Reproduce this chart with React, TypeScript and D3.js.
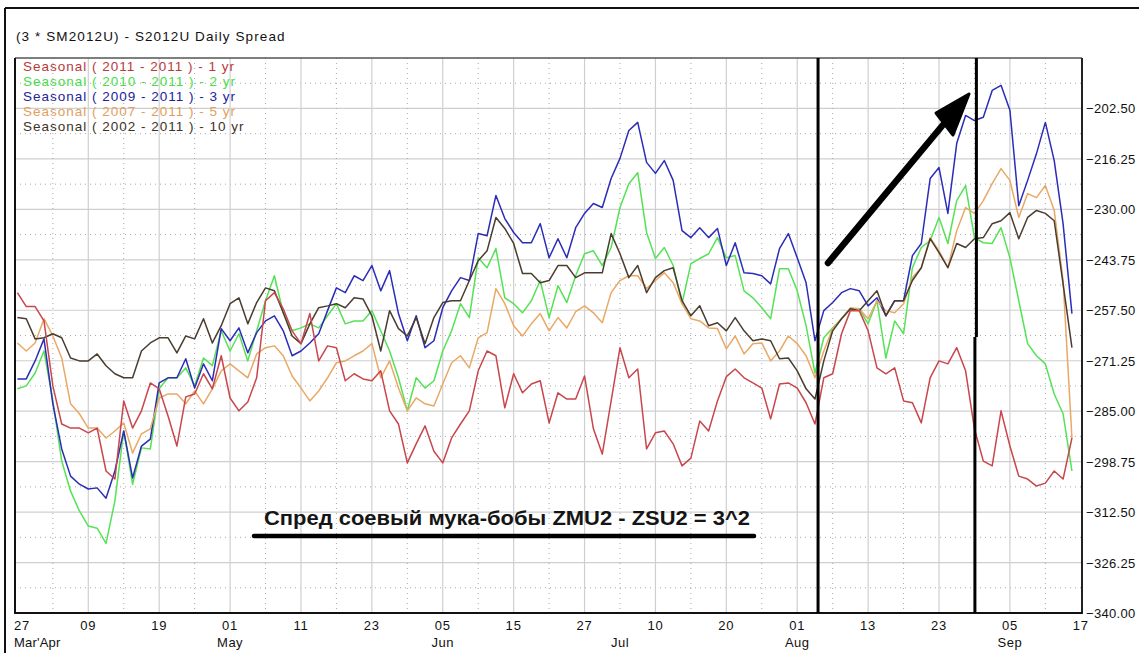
import React from "react";
import * as d3 from "d3";

const W = 1139;
const H = 653;

const dayLabels = ["27","09","19","01","11","23","05","15","27","10","20","01","13","23","05","17"];
const monthNames = ["May","Jun","Jul","Aug","Sep"];
const monthIdx = [24, 48, 68, 88, 112];

const seriesNames = [
  "Seasonal ( 2011 - 2011 ) - 1 yr",
  "Seasonal ( 2010 - 2011 ) - 2 yr",
  "Seasonal ( 2009 - 2011 ) - 3 yr",
  "Seasonal ( 2007 - 2011 ) - 5 yr",
  "Seasonal ( 2002 - 2011 ) - 10 yr",
];
const lineColors = ["#c8464c", "#55e255", "#2b2db8", "#eaa866", "#4a3c2e"];
const textColors = ["#b83a3a", "#49dc49", "#22239a", "#e0a060", "#3c3228"];

const red = [-252.7,-256.5,-256.5,-260.4,-278.1,-288.5,-289.6,-289.6,-290.9,-289.6,
-301.3,-303.5,-282.2,-289.6,-284.9,-277.3,-278.9,-286.3,-294.5,-281.1,
-280.3,-274.8,-278.9,-269.9,-281.4,-284.9,-282.5,-275.9,-254.9,-252.7,
-257.1,-263.1,-266.6,-258.4,-271.3,-267.2,-267.7,-276.7,-274.8,-276.2,
-276.7,-274.0,-284.9,-288.5,-299.1,-293.9,-289.0,-295.9,-299.1,-292.3,
-288.5,-284.9,-274.0,-268.6,-269.9,-284.1,-274.8,-280.0,-277.6,-276.7,
-288.2,-280.0,-281.7,-281.7,-275.4,-289.8,-296.7,-282.2,-267.7,-275.9,
-273.5,-295.3,-290.9,-290.4,-293.9,-299.9,-297.8,-287.7,-290.4,-282.2,
-275.6,-273.5,-275.9,-277.3,-278.7,-287.1,-277.6,-277.3,-278.7,-282.7,
-288.5,-275.9,-274.8,-263.9,-257.6,-257.6,-263.1,-273.2,-274.8,-273.2,
-282.2,-282.7,-288.2,-275.9,-271.3,-272.1,-267.7,-274.0,-289.8,-298.6,
-299.9,-284.9,-294.5,-302.7,-303.5,-305.4,-304.6,-301.3,-303.5,-292.3];

const green = [-278.9,-278.1,-274.6,-268.6,-282.2,-298.6,-306.8,-312.2,-316.3,-316.9,
-321.0,-309.5,-290.4,-304.9,-295.0,-295.3,-278.9,-275.9,-275.9,-273.2,
-278.1,-270.5,-272.6,-263.1,-268.6,-263.9,-271.3,-263.1,-254.9,-248.1,
-258.2,-263.1,-262.3,-261.2,-262.3,-259.0,-255.7,-261.2,-260.4,-260.4,
-257.6,-263.1,-268.6,-275.9,-284.9,-275.9,-278.7,-276.7,-268.6,-263.1,
-255.7,-259.5,-243.2,-245.9,-240.7,-254.1,-255.7,-258.2,-254.9,-249.4,
-259.5,-250.8,-255.4,-248.1,-242.1,-241.3,-245.3,-240.4,-229.5,-223.0,
-220.0,-236.3,-243.4,-240.4,-245.3,-255.7,-244.8,-243.4,-242.1,-237.7,
-243.2,-242.6,-252.2,-254.1,-256.8,-259.8,-246.2,-246.2,-252.2,-261.7,
-274.6,-265.0,-262.3,-259.8,-257.1,-257.1,-261.2,-254.9,-270.5,-260.4,
-263.9,-245.9,-240.4,-238.5,-232.2,-239.3,-227.6,-223.5,-237.7,-239.1,
-239.3,-235.0,-243.2,-254.9,-266.6,-269.9,-272.1,-280.3,-285.7,-301.3];

const blue = [-276.2,-276.2,-271.3,-265.3,-283.0,-295.3,-302.7,-304.9,-306.2,-305.9,
-308.7,-301.3,-290.4,-303.2,-294.5,-292.6,-277.3,-275.9,-275.9,-270.7,
-278.7,-272.1,-276.7,-262.5,-265.8,-262.3,-269.1,-263.6,-260.4,-259.0,
-263.1,-269.9,-268.6,-266.4,-263.9,-257.6,-251.4,-252.7,-248.1,-249.4,
-245.3,-252.2,-246.7,-258.4,-265.8,-259.0,-267.7,-265.8,-256.8,-252.2,
-248.6,-249.4,-236.6,-237.2,-226.2,-232.5,-236.3,-239.1,-239.1,-233.9,
-243.2,-238.0,-243.2,-235.0,-231.1,-228.4,-229.5,-221.6,-216.1,-208.5,
-206.3,-217.2,-220.2,-216.7,-222.1,-235.8,-237.7,-235.0,-237.7,-235.2,
-245.3,-239.1,-247.3,-247.5,-248.1,-250.3,-240.7,-236.6,-243.2,-250.0,
-265.8,-257.6,-255.4,-252.7,-251.6,-252.2,-256.3,-254.1,-259.0,-254.9,
-254.9,-242.6,-239.3,-221.6,-218.6,-231.1,-212.0,-204.4,-205.8,-204.9,
-197.6,-196.2,-203.0,-229.0,-222.1,-214.8,-206.3,-216.7,-233.9,-258.4];

const orange = [-266.4,-268.6,-266.4,-259.8,-264.5,-270.5,-283.0,-285.7,-289.6,-289.6,
-292.3,-290.4,-288.2,-296.4,-291.2,-289.8,-281.4,-280.3,-280.3,-283.0,
-279.5,-283.0,-278.9,-274.0,-272.1,-274.0,-275.9,-269.4,-267.7,-267.2,
-269.9,-275.4,-278.7,-282.2,-279.5,-275.9,-271.8,-271.3,-269.9,-268.6,
-266.6,-275.9,-271.3,-278.7,-284.9,-281.4,-283.0,-283.6,-277.6,-271.8,
-269.9,-273.2,-265.0,-263.6,-251.6,-255.7,-261.7,-264.5,-261.2,-258.4,
-263.1,-259.5,-262.3,-257.9,-256.3,-258.2,-260.9,-252.7,-249.4,-248.1,
-248.1,-251.6,-249.4,-247.3,-250.0,-255.7,-259.8,-260.4,-262.3,-262.5,
-268.0,-264.5,-269.4,-266.6,-266.4,-271.3,-268.6,-264.5,-266.6,-269.9,
-275.9,-268.6,-262.5,-259.8,-256.8,-257.1,-259.8,-254.9,-257.6,-258.2,
-255.7,-248.6,-245.9,-237.7,-241.3,-245.9,-235.8,-229.5,-231.1,-227.6,
-223.0,-218.9,-222.1,-232.2,-225.7,-226.8,-223.5,-230.3,-249.4,-292.3];

const brown = [-259.5,-259.8,-265.3,-265.0,-263.9,-265.0,-270.5,-271.3,-271.3,-269.4,
-272.6,-274.8,-275.9,-275.9,-268.6,-266.4,-265.0,-265.0,-269.1,-264.5,
-265.3,-259.8,-266.4,-261.7,-255.7,-254.1,-261.2,-255.4,-251.4,-252.2,
-258.2,-264.5,-266.6,-261.2,-256.8,-256.3,-255.7,-256.8,-254.1,-254.4,
-259.0,-268.6,-257.6,-262.5,-264.5,-259.5,-266.6,-259.5,-255.4,-254.9,
-254.9,-249.4,-244.0,-241.3,-232.2,-235.2,-239.3,-247.5,-247.5,-250.0,
-249.4,-245.3,-245.3,-248.6,-247.3,-247.3,-247.3,-236.6,-242.1,-248.6,
-245.3,-252.7,-248.6,-246.7,-245.9,-254.9,-259.0,-256.3,-261.7,-260.9,
-263.1,-259.5,-263.1,-265.8,-265.3,-265.8,-270.7,-270.5,-274.0,-278.9,
-281.7,-271.3,-263.1,-259.8,-257.1,-257.6,-254.9,-252.2,-259.0,-254.9,
-254.9,-249.4,-245.9,-238.0,-241.8,-245.9,-239.3,-240.4,-238.0,-237.7,
-233.9,-233.1,-230.9,-238.0,-232.2,-230.3,-231.1,-233.1,-250.3,-267.7];

const yMin = -340;
const yMax = -188.75;
const yStep = 13.75;
const markerIdx = [90.35, 108.05];

export default function App() {
  const left = 15, right = 1082, top = 58, bottom = 613;
  const x = d3.scaleLinear().domain([0, 120]).range([17.4, 1080.8]);
  const y = d3.scaleLinear().domain([yMin, yMax]).range([bottom, top]);
  const line = d3.line<number>().x((_, i) => x(i)).y((d) => y(d));

  const yTicks = d3.range(0, 11).map((k) => yMin + k * yStep);
  const yHalf = d3.range(0, 11).map((k) => yMin + (k + 0.5) * yStep);
  const xTicks = d3.range(0, 16).map((k) => k * 8);
  const xHalf = d3.range(0, 15).map((k) => k * 8 + 4);

  const drawOrder = [1, 2, 3, 4, 0];
  const data = [red, green, blue, orange, brown];
  const font = "'Liberation Sans', Arial, sans-serif";
  const fmt = d3.format(".2f");

  return (
    <svg width={W} height={H} style={{ position: "absolute", left: 0, top: 0, background: "#fff" }}>
      <rect x={0} y={0} width={W} height={H} fill="#fff" />
      {/* outer frame */}
      <line x1={5} y1={8} x2={W} y2={8} stroke="#111" strokeWidth={2} />
      <line x1={5} y1={8} x2={5} y2={H} stroke="#111" strokeWidth={2} />
      <text x={16} y={41} fontFamily={font} fontSize={13.5} letterSpacing={1.1} fill="#111">
        (3 * SM2012U) - S2012U Daily Spread
      </text>

      {/* grid */}
      {yHalf.map((v, i) => (
        <line key={"yh" + i} x1={left} x2={right} y1={y(v)} y2={y(v)} stroke="#a8a8a8" strokeWidth={1} strokeDasharray="1,4" />
      ))}
      {yTicks.slice(1).map((v, i) => (
        <line key={"yt" + i} x1={left} x2={right} y1={y(v)} y2={y(v)} stroke="#cfcfcf" strokeWidth={1.2} />
      ))}
      {xHalf.map((v, i) => (
        <line key={"xh" + i} x1={x(v)} x2={x(v)} y1={top} y2={bottom} stroke="#a8a8a8" strokeWidth={1} strokeDasharray="1,4" />
      ))}
      {xTicks.slice(1, 15).map((v, i) => (
        <line key={"xt" + i} x1={x(v)} x2={x(v)} y1={top} y2={bottom} stroke="#cfcfcf" strokeWidth={1.2} />
      ))}

      {/* legend */}
      {seriesNames.map((s, i) => (
        <text key={"lg" + i} x={23} y={71 + i * 15} fontFamily={font} fontSize={13.5} letterSpacing={1.0} fill={textColors[i]}>
          {s}
        </text>
      ))}

      {/* series */}
      {drawOrder.map((k) => (
        <path key={"s" + k} d={line(data[k]) || ""} fill="none" stroke={lineColors[k]} strokeWidth={1.5} strokeLinejoin="round" />
      ))}

      {/* plot frame */}
      <line x1={left} y1={top} x2={right} y2={top} stroke="#555" strokeWidth={1.5} />
      <line x1={left} y1={top} x2={left} y2={bottom + 1} stroke="#111" strokeWidth={2} />
      <line x1={right} y1={top} x2={right} y2={bottom + 1} stroke="#222" strokeWidth={2} />
      <line x1={left} y1={bottom} x2={right} y2={bottom} stroke="#111" strokeWidth={2} />

      {/* marker lines */}
      <line x1={x(markerIdx[0])} x2={x(markerIdx[0])} y1={top} y2={bottom} stroke="#000" strokeWidth={3} />
      <line x1={x(markerIdx[1]) + 1.5} x2={x(markerIdx[1]) + 1.5} y1={top} y2={337} stroke="#000" strokeWidth={3} />
      <line x1={x(markerIdx[1])} x2={x(markerIdx[1])} y1={337} y2={bottom} stroke="#000" strokeWidth={3} />

      {/* arrow */}
      <line x1={828} y1={263} x2={957} y2={108} stroke="#000" strokeWidth={6.5} strokeLinecap="round" />
      <polygon points="969,94 936,113 953,135" fill="#000" stroke="#000" strokeWidth={3} strokeLinejoin="round" />

      {/* annotation */}
      <text x={264} y={525} fontFamily={font} fontWeight="bold" fontSize={20.5} textLength={486} lengthAdjust="spacingAndGlyphs" fill="#151515">
        Спред соевый мука-бобы ZMU2 - ZSU2 = 3^2
      </text>
      <line x1={254} y1={536} x2={754} y2={536} stroke="#000" strokeWidth={4.5} strokeLinecap="round" />

      {/* y axis labels */}
      {yTicks.map((v, i) => (
        <text key={"yl" + i} x={1086} y={y(v) + 5} fontFamily={font} fontSize={13} letterSpacing={0.3} fill="#111">
          {fmt(v)}
        </text>
      ))}

      {/* x axis labels */}
      {xTicks.map((v, i) => (
        <text key={"xl" + i} x={i === 0 ? 14 : x(v)} y={630} textAnchor={i === 0 ? "start" : "middle"} fontFamily={font} fontSize={13} letterSpacing={0.8} fill="#111">
          {dayLabels[i]}
        </text>
      ))}
      <text x={14} y={647} fontFamily={font} fontSize={13} letterSpacing={0.2} fill="#111">Mar'Apr</text>
      {monthNames.map((m, i) => (
        <text key={"ml" + i} x={x(monthIdx[i])} y={647} textAnchor="middle" fontFamily={font} fontSize={13} letterSpacing={0.5} fill="#111">
          {m}
        </text>
      ))}
    </svg>
  );
}
